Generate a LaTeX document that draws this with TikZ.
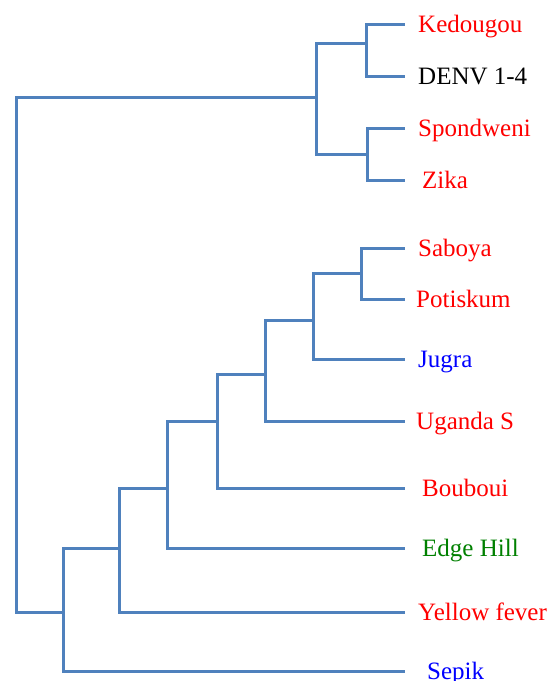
\documentclass[tikz,border=0pt]{standalone}
\usepackage{fontspec}
\setmainfont{Liberation Serif}
\definecolor{branchBlue}{RGB}{79,129,189}
\definecolor{leafGreen}{RGB}{0,128,0}
\begin{document}
\begin{tikzpicture}[x=1pt, y=-1pt,
        leaf/.style={anchor=west, inner xsep=13pt, inner ysep=0pt, text height=18pt, text depth=2pt, font=\fontsize{25}{30}\selectfont},
        branch/.style={draw=branchBlue, line width=3pt}]
            \useasboundingbox (0, 0) rectangle (552, 681);

            \coordinate (root) at (16, 354);
            \coordinate (a) at (316, 97);
            \coordinate (a1) at (366, 43);
            \coordinate (a2) at (367, 154);
            \coordinate (b) at (63, 612);
            \coordinate (c) at (119, 548);
            \coordinate (d) at (167, 488);
            \coordinate (e) at (217, 421);
            \coordinate (f) at (265, 374);
            \coordinate (g) at (313, 320);
            \coordinate (h) at (361, 273);

            \node[leaf, red] at (405, 24) (ked) {Kedougou};
            \node[leaf] at (405, 76) (denv) {DENV 1-4};
            \node[leaf, red] at (405, 128) (spond) {Spondweni};
            \node[leaf, red, inner xsep=17pt] at (405, 180) (zika) {Zika};
            \node[leaf, red] at (405, 248) (sab) {Saboya};
            \node[leaf, red, inner xsep=11pt] at (405, 299) (pot) {Potiskum};
            \node[leaf, blue] at (405, 359) (jug) {Jugra};
            \node[leaf, red, inner xsep=11pt] at (405, 421) (uga) {Uganda S};
            \node[leaf, red, inner xsep=17pt] at (405, 488) (bou) {Bouboui};
            \node[leaf, leafGreen, inner xsep=17pt] at (405, 548) (edge) {Edge Hill};
            \node[leaf, red] at (405, 612) (yf) {Yellow fever};
            \node[leaf, blue, inner xsep=22pt] at (405, 671) (sepik) {Sepik};

            \draw[branch] (root) |- (a);
            \draw[branch] (root) |- (b);

            \draw[branch] (a) |- (a1);
            \draw[branch] (a) |- (a2);
            \draw[branch] (a1) |- (ked.west);
            \draw[branch] (a1) |- (denv.west);
            \draw[branch] (a2) |- (spond.west);
            \draw[branch] (a2) |- (zika.west);

            \draw[branch] (b) |- (c);
            \draw[branch] (b) |- (sepik.west);
            \draw[branch] (c) |- (d);
            \draw[branch] (c) |- (yf.west);
            \draw[branch] (d) |- (e);
            \draw[branch] (d) |- (edge.west);
            \draw[branch] (e) |- (f);
            \draw[branch] (e) |- (bou.west);
            \draw[branch] (f) |- (g);
            \draw[branch] (f) |- (uga.west);
            \draw[branch] (g) |- (h);
            \draw[branch] (g) |- (jug.west);
            \draw[branch] (h) |- (sab.west);
            \draw[branch] (h) |- (pot.west);
        \end{tikzpicture}
\end{document}
